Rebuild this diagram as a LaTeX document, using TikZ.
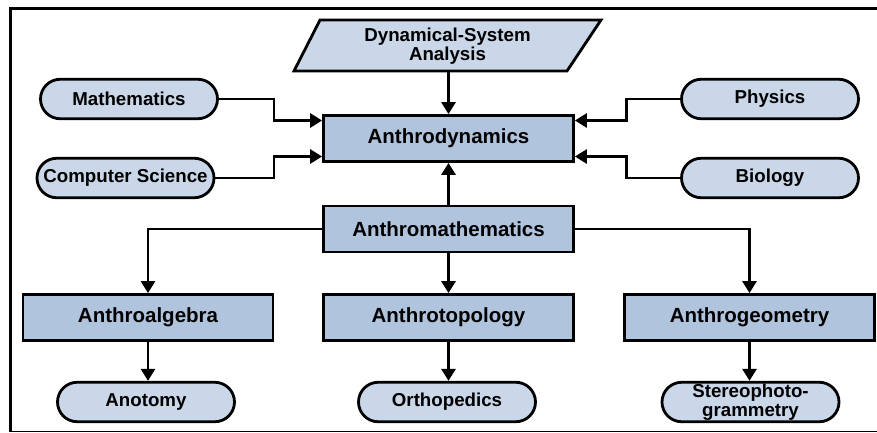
\documentclass[tikz,border=0pt]{standalone}
\usepackage{fontspec}
\setmainfont{Liberation Sans}
\usetikzlibrary{shapes.misc,arrows.meta}
\definecolor{rectfill}{HTML}{B0C4DE}
\definecolor{stadfill}{HTML}{C9D7E8}
\tikzset{
  rectbox/.style={draw=black, line width=2.8pt, fill=rectfill, minimum width=250pt, minimum height=46pt, inner sep=0pt,
    font=\fontsize{20.5}{22}\selectfont\bfseries},
  stadbox/.style={draw=black, line width=2.8pt, fill=stadfill, rounded rectangle, minimum width=177pt, minimum height=39.5pt, inner sep=0pt,
    align=center, font=\fontsize{18.7}{18.5}\selectfont\bfseries},
  arr/.style={draw=black, line width=2.8pt, -{Triangle[length=12pt,width=14pt]}},
}
\begin{document}
\begin{tikzpicture}[x=1pt,y=-1pt]
\useasboundingbox (0,0) rectangle (877,433);
% frame
\draw[line width=3pt] (877,8.5) -- (10.5,8.5) -- (10.5,432);
\draw[line width=1.5pt] (9,431.5) -- (877,431.5);
% parallelogram
\draw[line width=2.8pt, fill=stadfill, line join=miter] (320,20) -- (601,20) -- (567,71) -- (294,71) -- cycle;
\node[align=center, inner sep=0pt, font=\fontsize{18.7}{18.5}\selectfont\bfseries] (dsa) at (447.5,46) {Dynamical-System\\Analysis};
\coordinate (dsab) at (448.5,71);
% rect nodes
\node[rectbox] (ad) at (448.5,138.5) {Anthrodynamics};
\node[rectbox] (am) at (448.5,229) {Anthromathematics};
\node[rectbox] (alg) at (148,317.5) {Anthroalgebra};
\node[rectbox] (top) at (448.5,317.5) {Anthrotopology};
\node[rectbox] (geo) at (749.5,317.5) {Anthrogeometry};
% stadium nodes
\node[stadbox] (math) at (129,99) {Mathematics};
\node[stadbox] (cs) at (125.5,178) {Computer Science};
\node[stadbox] (phys) at (770,99) {Physics};
\node[stadbox] (bio) at (770,178) {Biology};
\node[stadbox] (anot) at (146,402) {Anotomy};
\node[stadbox] (orth) at (447,402) {Orthopedics};
\node[stadbox] (ster) at (750.5,402) {Stereophoto-\\grammetry};
% connectors
\draw[arr] (dsab) -- (ad.north);
\draw[arr] (math.east) -- ++(55,0) |- ([yshift=18pt]ad.west);
\draw[arr] (cs.east) -- ++(58.5,0) |- ([yshift=-18pt]ad.west);
\draw[arr] (phys.west) -- ++(-54,0) |- ([yshift=18pt]ad.east);
\draw[arr] (bio.west) -- ++(-54,0) |- ([yshift=-18pt]ad.east);
\draw[arr] (am.north) -- (ad.south);
\draw[arr] (am.west) -| (alg.north);
\draw[arr] (am.south) -- (top.north);
\draw[arr] (am.east) -| (geo.north);
\draw[arr] (alg.south) -- (alg.south |- anot.north);
\draw[arr] (top.south) -- (top.south |- orth.north);
\draw[arr] (geo.south) -- (geo.south |- ster.north);
\end{tikzpicture}
\end{document}
